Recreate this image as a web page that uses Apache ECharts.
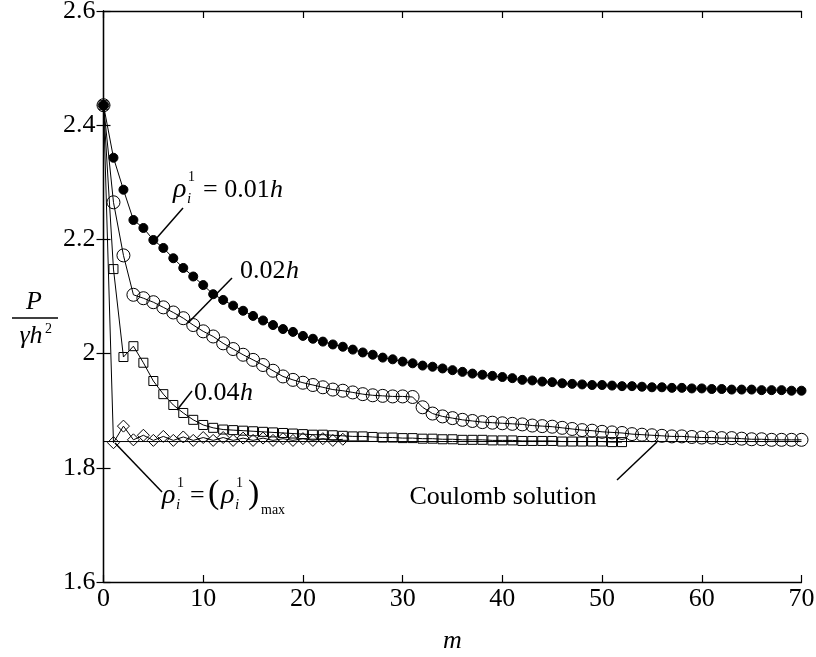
<!DOCTYPE html>
<html>
<head>
<meta charset="utf-8">
<style>
  html, body { margin: 0; padding: 0; background: #fff; }
  #chart { width: 816px; height: 657px; }
</style>
<script src="https://cdn.jsdelivr.net/npm/echarts@6/dist/echarts.min.js"></script>
</head>
<body>
<div id="chart"></div>
<script>
// m = 0, 1, 2, ... for each curve
const rho001 = [2.435, 2.343, 2.287, 2.234, 2.220, 2.199, 2.185, 2.167, 2.150, 2.135,
  2.120, 2.104, 2.094, 2.084, 2.075, 2.066, 2.058, 2.050, 2.043, 2.038,
  2.031, 2.026, 2.021, 2.016, 2.012, 2.007, 2.002, 1.998, 1.993, 1.990,
  1.986, 1.983, 1.979, 1.977, 1.974, 1.971, 1.968, 1.965, 1.963, 1.961,
  1.959, 1.957, 1.954, 1.953, 1.951, 1.950, 1.948, 1.947, 1.946, 1.945,
  1.945, 1.944, 1.943, 1.943, 1.942, 1.941, 1.941, 1.940, 1.940, 1.939,
  1.939, 1.938, 1.938, 1.937, 1.937, 1.937, 1.936, 1.936, 1.936, 1.935, 1.935];
const rho002 = [2.435, 2.265, 2.172, 2.103, 2.097, 2.090, 2.081, 2.072, 2.062, 2.050,
  2.039, 2.030, 2.018, 2.008, 1.998, 1.989, 1.980, 1.970, 1.960, 1.954,
  1.949, 1.945, 1.941, 1.937, 1.935, 1.932, 1.929, 1.927, 1.926, 1.925,
  1.925, 1.924, 1.906, 1.895, 1.890, 1.887, 1.884, 1.882, 1.880, 1.879,
  1.878, 1.877, 1.876, 1.874, 1.873, 1.872, 1.870, 1.868, 1.866, 1.865,
  1.863, 1.862, 1.861, 1.859, 1.858, 1.857, 1.856, 1.855, 1.855, 1.854,
  1.853, 1.853, 1.852, 1.852, 1.851, 1.850, 1.850, 1.849, 1.849, 1.849, 1.849];
const rho004 = [2.435, 2.148, 1.994, 2.013, 1.984, 1.952, 1.929, 1.910, 1.896, 1.884,
  1.875, 1.870, 1.867, 1.866, 1.865, 1.864, 1.863, 1.862, 1.861, 1.860,
  1.859, 1.858, 1.858, 1.857, 1.856, 1.855, 1.855, 1.854, 1.853, 1.853,
  1.852, 1.852, 1.851, 1.851, 1.850, 1.850, 1.849, 1.849, 1.849, 1.848,
  1.848, 1.848, 1.847, 1.847, 1.847, 1.847, 1.846, 1.846, 1.846, 1.846,
  1.846, 1.845, 1.845];
const rhoMax = [2.435, 1.844, 1.873, 1.849, 1.857, 1.848, 1.855, 1.848, 1.854, 1.848,
  1.853, 1.848, 1.853, 1.848, 1.852, 1.848, 1.852, 1.848, 1.851, 1.848,
  1.851, 1.848, 1.851, 1.848, 1.850];
const coulomb = 1.846;
const xTicks = [0, 10, 20, 30, 40, 50, 60, 70];
const yTicks = [1.6, 1.8, 2.0, 2.2, 2.4, 2.6];

const toPairs = arr => arr.map((v, i) => [i, v]);
const FONT = '"Liberation Serif", "DejaVu Serif", serif';

const chart = echarts.init(document.getElementById('chart'));

const lineSeries = (name, arr, symbol, size, filled) => ({
  name,
  type: 'line',
  data: toPairs(arr),
  symbol,
  symbolSize: size,
  showAllSymbol: true,
  lineStyle: { color: '#000', width: 1 },
  itemStyle: {
    color: filled ? '#000' : 'rgba(0,0,0,0)',
    borderColor: '#000',
    borderWidth: 1
  },
  z: 3
});

const axisCommon = {
  axisLine: { lineStyle: { color: '#000', width: 1.3 } },
  axisTick: { inside: true, length: 7, lineStyle: { color: '#000', width: 1.2 } },
  splitLine: { show: false }
};

const option = {
  animation: false,
  backgroundColor: '#fff',
  grid: { left: 103.5, right: 14.5, top: 11, bottom: 75, outerBoundsMode: 'none' },
  xAxis: [
    {
      type: 'value', min: xTicks[0], max: xTicks[xTicks.length - 1], interval: 10,
      ...axisCommon,
      axisLabel: { color: '#000', fontFamily: FONT, fontSize: 26, margin: 4 },
      name: 'm', nameLocation: 'middle', nameGap: 46,
      nameTextStyle: { color: '#000', fontFamily: FONT, fontSize: 26, fontStyle: 'italic' }
    },
    {
      type: 'value', position: 'top', min: 0, max: 70, interval: 10,
      ...axisCommon, axisLabel: { show: false }
    }
  ],
  yAxis: [
    {
      type: 'value', min: yTicks[0], max: yTicks[yTicks.length - 1], interval: 0.2,
      ...axisCommon,
      axisLabel: {
        color: '#000', fontFamily: FONT, fontSize: 26, margin: 8,
        formatter: v => String(+v.toFixed(1))
      }
    },
    {
      type: 'value', position: 'right', min: 1.6, max: 2.6, interval: 0.2,
      ...axisCommon, axisLabel: { show: false }
    }
  ],
  series: [
    {
      name: 'Coulomb', type: 'line', data: [[0, coulomb], [70, coulomb]],
      symbol: 'none', lineStyle: { color: '#000', width: 1 }, z: 2
    },
    lineSeries('max', rhoMax, 'diamond', 12, false),
    lineSeries('0.04h', rho004, 'rect', 9, false),
    lineSeries('0.02h', rho002, 'circle', 13, false),
    lineSeries('0.01h', rho001, 'circle', 9, true)
  ]
};
chart.setOption(option);

// annotations
const txt = (x, y, text, size, italic, align) => ({
  type: 'text',
  style: {
    x, y, text,
    font: (italic ? 'italic ' : '') + size + 'px ' + FONT,
    fill: '#000',
    textAlign: align || 'left',
    textVerticalAlign: 'middle'
  },
  z: 10
});
const seg = (x1, y1, x2, y2) => ({
  type: 'line',
  shape: { x1, y1, x2, y2 },
  style: { stroke: '#000', lineWidth: 1.5 },
  z: 10
});
// ρ with sub i and sup 1
const rhoI = (x, y) => [
  txt(x, y, 'ρ', 28, true),
  txt(x + 15, y - 13, '1', 14, false),
  txt(x + 14, y + 9, 'i', 15, true)
];

const graphics = [
  // y axis label
  txt(34, 302, 'P', 26, true, 'center'),
  seg(12, 318, 58, 318),
  txt(31, 336, 'γh', 26, true, 'center'),
  txt(45, 329, '2', 14, false, 'left'),

  // 0.01h
  seg(155, 240, 183, 208),
  ...rhoI(173, 190),
  txt(203, 190, '= 0.01', 26, false),
  txt(270, 190, 'h', 26, true),

  // 0.02h
  seg(188, 323, 232, 278),
  txt(240, 271, '0.02', 26, false),
  txt(286, 271, 'h', 26, true),

  // 0.04h
  seg(177, 410, 192, 391),
  txt(194, 393, '0.04', 26, false),
  txt(240, 393, 'h', 26, true),

  // rho max
  seg(115, 443, 162, 492),
  ...rhoI(162, 496),
  txt(190, 496, '=', 26, false),
  txt(208, 494, '(', 34, false),
  ...rhoI(221, 496),
  txt(248, 494, ')', 34, false),
  txt(261, 510, 'max', 14, false),

  // Coulomb
  seg(617, 480, 657, 442),
  txt(503, 497, 'Coulomb solution', 26, false, 'center')
];
chart.setOption({ graphic: graphics });
</script>
</body>
</html>
